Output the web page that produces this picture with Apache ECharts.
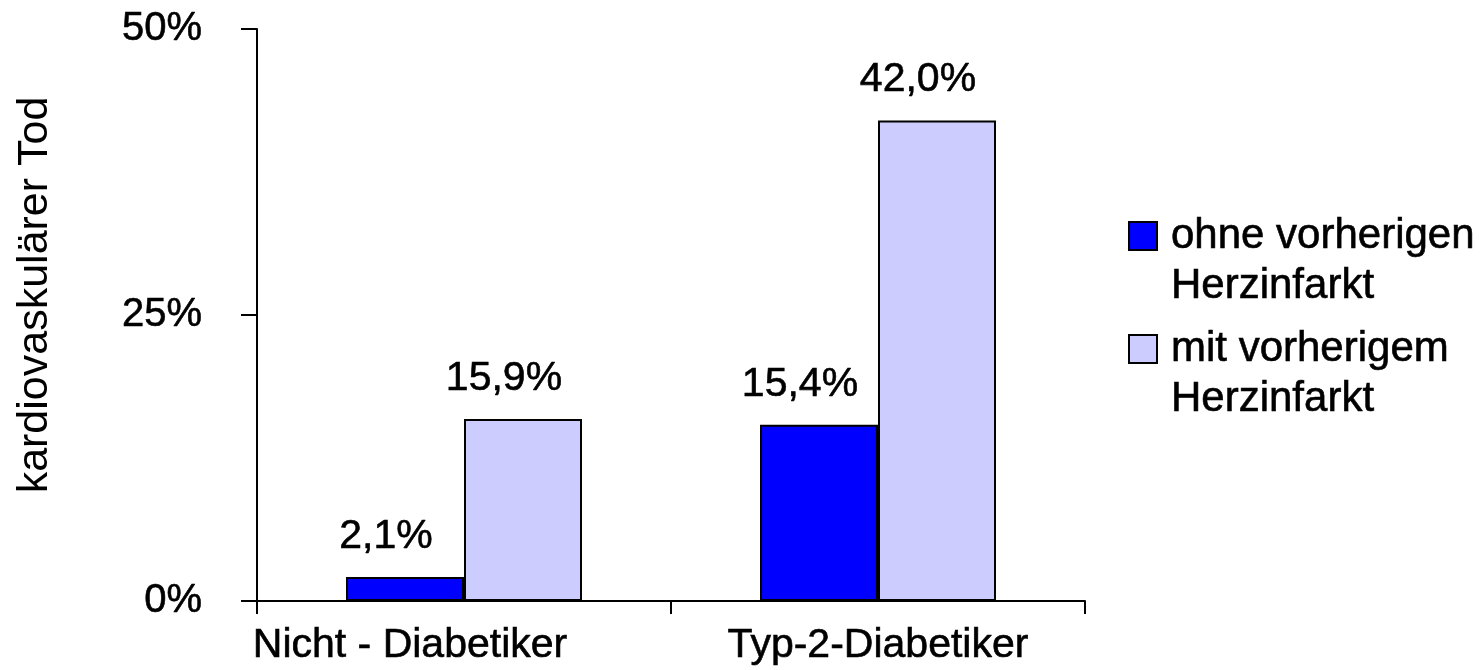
<!DOCTYPE html>
<html>
<head>
<meta charset="utf-8">
<script src="https://cdn.jsdelivr.net/npm/echarts@6/dist/echarts.min.js"></script>
<style>
html,body{margin:0;padding:0;background:#fff;}
#chart{width:1484px;height:670px;}
</style>
</head>
<body>
<div id="chart"></div>
<script>
var categories = ['Nicht - Diabetiker', 'Typ-2-Diabetiker'];
var seriesNames = ['ohne vorherigen\nHerzinfarkt', 'mit vorherigem\nHerzinfarkt'];
var ohneValues = [2.1, 15.4];
var mitValues = [15.9, 42.0];
var yTicks = [0, 25, 50];
var yAxisTitle = 'kardiovaskulärer Tod';

var FONT = "'Liberation Sans', Arial, sans-serif";
var HEAVY = { textBorderColor: '#000', textBorderWidth: 0.6 };
function pct(v) { return v.toFixed(1).replace('.', ',') + '%'; }

var chart = echarts.init(document.getElementById('chart'));
var labelStyle = {
  show: true,
  position: 'top',
  distance: 20,
  offset: [-19, 0],
  color: '#000',
  fontFamily: FONT,
  fontSize: 41,
  textBorderColor: HEAVY.textBorderColor,
  textBorderWidth: HEAVY.textBorderWidth,
  formatter: function (p) { return pct(p.value); }
};
chart.setOption({
  animation: false,
  backgroundColor: '#fff',
  grid: { left: 257, right: 399, top: 29, bottom: 69 },
  legend: {
    orient: 'vertical',
    left: 1123,
    top: 156,
    itemWidth: 28,
    itemHeight: 28,
    itemGap: -37,
    icon: 'rect',
    selectedMode: false,
    formatter: function (name) { return '\n' + name; },
    textStyle: {
      color: '#000',
      fontFamily: FONT,
      fontSize: 42,
      lineHeight: 50,
      padding: [0, 0, 0, 9],
      textBorderColor: HEAVY.textBorderColor,
      textBorderWidth: HEAVY.textBorderWidth
    },
    data: seriesNames
  },
  xAxis: {
    type: 'category',
    data: categories,
    axisLine: { lineStyle: { color: '#000', width: 2 } },
    axisTick: { show: true, length: 13, alignWithLabel: false, lineStyle: { color: '#000', width: 2 } },
    axisLabel: {
      interval: 0,
      color: '#000',
      fontFamily: FONT,
      fontSize: 41,
      margin: 24,
      formatter: function (v, i) {
        return i === 0 ? '{a|' + v + '}' : '{b|' + v + '}';
      },
      rich: {
        a: { fontFamily: FONT, fontSize: 41, color: '#000', padding: [0, 108, 0, 0],
             textBorderColor: HEAVY.textBorderColor, textBorderWidth: HEAVY.textBorderWidth },
        b: { fontFamily: FONT, fontSize: 41, color: '#000',
             textBorderColor: HEAVY.textBorderColor, textBorderWidth: HEAVY.textBorderWidth }
      }
    }
  },
  yAxis: {
    type: 'value',
    min: 0,
    max: 50,
    interval: 25,
    name: yAxisTitle,
    nameLocation: 'middle',
    nameRotate: 90,
    nameGap: 200,
    nameTextStyle: { color: '#000', fontFamily: FONT, fontSize: 43, padding: [0, 0, 0, 40] },
    axisLine: { show: true, lineStyle: { color: '#000', width: 2 } },
    axisTick: { show: true, length: 16, lineStyle: { color: '#000', width: 2 } },
    splitLine: { show: false },
    axisLabel: {
      color: '#000',
      fontFamily: FONT,
      fontSize: 40,
      margin: 55,
      textBorderColor: HEAVY.textBorderColor,
      textBorderWidth: HEAVY.textBorderWidth,
      formatter: function (v) { return v + '%'; }
    }
  },
  series: [
    {
      name: seriesNames[0],
      type: 'bar',
      data: ohneValues,
      barWidth: 118,
      barGap: '0%',
      itemStyle: { color: '#0000FF', borderColor: '#000', borderWidth: 2 },
      label: labelStyle
    },
    {
      name: seriesNames[1],
      type: 'bar',
      data: mitValues,
      barWidth: 118,
      barGap: '0%',
      itemStyle: { color: '#CCCCFF', borderColor: '#000', borderWidth: 2 },
      label: labelStyle
    }
  ]
});
</script>
</body>
</html>
